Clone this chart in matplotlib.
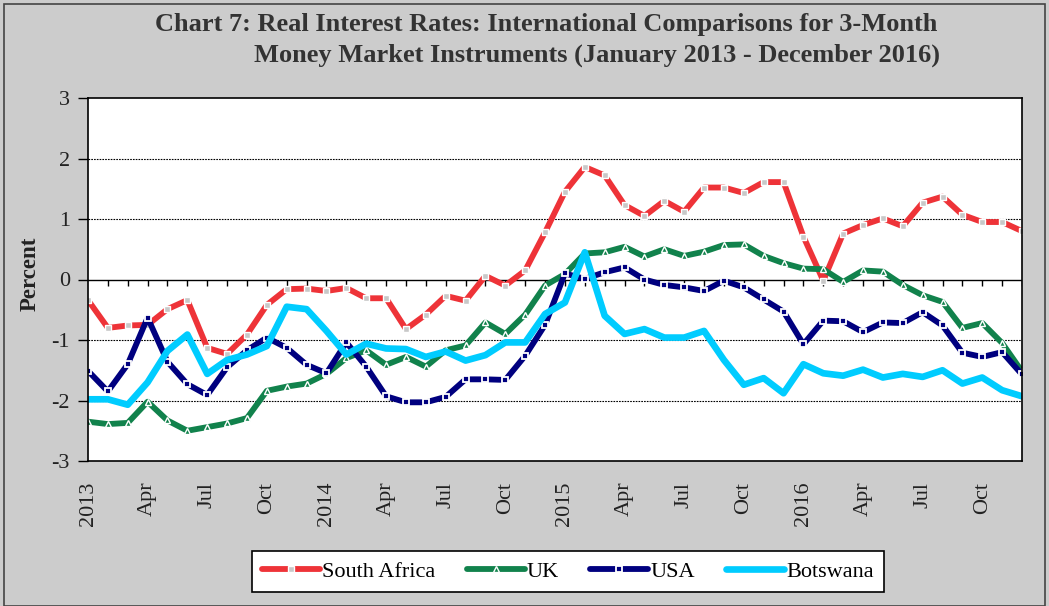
import matplotlib
matplotlib.use("Agg")
import matplotlib.pyplot as plt
from matplotlib.patches import Rectangle
import numpy as np

months = list(range(48))
tick_labels = ["2013", "Apr", "Jul", "Oct", "2014", "Apr", "Jul", "Oct",
               "2015", "Apr", "Jul", "Oct", "2016", "Apr", "Jul", "Oct"]

south_africa = [-0.34, -0.80, -0.76, -0.75, -0.49, -0.34, -1.13, -1.23, -0.91, -0.42, -0.16, -0.15,
                -0.19, -0.14, -0.31, -0.31, -0.82, -0.58, -0.27, -0.35, 0.06, -0.10, 0.15, 0.78,
                1.45, 1.86, 1.72, 1.23, 1.05, 1.30, 1.12, 1.52, 1.52, 1.43, 1.61, 1.61,
                0.71, -0.02, 0.76, 0.90, 1.01, 0.88, 1.27, 1.37, 1.07, 0.95, 0.95, 0.80]
uk = [-2.35, -2.39, -2.37, -2.02, -2.33, -2.50, -2.44, -2.38, -2.29, -1.84, -1.77, -1.72,
      -1.56, -1.30, -1.17, -1.41, -1.28, -1.44, -1.17, -1.09, -0.71, -0.90, -0.58, -0.10,
      0.09, 0.43, 0.45, 0.54, 0.38, 0.50, 0.39, 0.46, 0.57, 0.58, 0.39, 0.27,
      0.18, 0.17, -0.04, 0.15, 0.13, -0.09, -0.26, -0.37, -0.80, -0.72, -1.05, -1.52]
usa = [-1.51, -1.85, -1.40, -0.63, -1.36, -1.73, -1.91, -1.45, -1.17, -0.96, -1.13, -1.41,
       -1.55, -1.04, -1.44, -1.93, -2.03, -2.03, -1.94, -1.65, -1.65, -1.66, -1.26, -0.75,
       0.10, 0.01, 0.12, 0.20, 0.00, -0.09, -0.13, -0.19, -0.02, -0.13, -0.33, -0.53,
       -1.07, -0.68, -0.69, -0.87, -0.71, -0.72, -0.54, -0.76, -1.21, -1.28, -1.20, -1.57]
botswana = [-1.98, -1.98, -2.07, -1.70, -1.18, -0.91, -1.56, -1.33, -1.24, -1.10, -0.45, -0.49,
            -0.85, -1.24, -1.06, -1.14, -1.15, -1.28, -1.19, -1.34, -1.25, -1.04, -1.04, -0.57,
            -0.38, 0.45, -0.60, -0.90, -0.82, -0.96, -0.96, -0.85, -1.33, -1.74, -1.63, -1.88,
            -1.40, -1.55, -1.59, -1.49, -1.62, -1.56, -1.61, -1.50, -1.72, -1.62, -1.83, -1.93]

plt.rcParams['font.family'] = ['Liberation Serif', 'DejaVu Serif']

BG = '#CCCCCC'
fig = plt.figure(figsize=(10.49, 6.06), dpi=100, facecolor=BG)
ax = fig.add_axes([88/1049, 1-461/606, (1022-88)/1049, (461-98)/606])
ax.set_facecolor('white')

ax.plot(months, south_africa, color='#EE3338', lw=4.2, marker='s', ms=4.5,
        mfc='#C8C8C8', mec='white', mew=1.0, label='South Africa', solid_capstyle='round')
ax.plot(months, uk, color='#11824C', lw=4.2, marker='^', ms=5,
        mfc='#11824C', mec='white', mew=1.0, label='UK', solid_capstyle='round')
ax.plot(months, usa, color='#00007F', lw=4.2, marker='s', ms=5,
        mfc='#00007F', mec='white', mew=1.3, label='USA', solid_capstyle='round')
ax.plot(months, botswana, color='#00CCFF', lw=4.8, label='Botswana', solid_capstyle='round')

ax.set_xlim(0, 47)
ax.set_ylim(-3, 3)
ax.set_yticks([-3, -2, -1, 0, 1, 2, 3])
ax.set_yticklabels(['-3', '-2', '-1', '0', '1', '2', '3'])
for yv in [-2, -1, 1, 2]:
    ax.axhline(yv, color='black', lw=0.8, ls=(0, (1.5, 1)), zorder=0.5)
ax.axhline(0, color='black', lw=1.0, zorder=0.6)
ax.vlines(months[1:], -0.115, 0, color='black', lw=1.0, zorder=0.6)

ax.set_xticks(months[::3])
ax.set_xticklabels(tick_labels, rotation=90, fontsize=16, color='#222222')
ax.tick_params(axis='x', length=0, pad=15)
ax.tick_params(axis='y', length=7, width=1, labelsize=16, labelcolor='#222222', pad=6)
for s in ax.spines.values():
    s.set_linewidth(1.2)
    s.set_color('black')

fig.text(30/1049, 1-274/606, 'Percent', rotation=90, fontsize=16.5, fontweight='bold',
         ha='center', va='center', color='#222222')

fig.text(937/1049, 1-25/606, 'Chart 7: Real Interest Rates: International Comparisons for 3-Month',
         ha='right', va='center', fontsize=19, fontweight='bold', color='#333333')
fig.text(940/1049, 1-55/606, 'Money Market Instruments (January 2013 - December 2016)',
         ha='right', va='center', fontsize=19, fontweight='bold', color='#333333')

leg = fig.legend(loc='center', bbox_to_anchor=(568/1049, 1-571.5/606), ncol=4,
                 fontsize=16, frameon=True, fancybox=False, edgecolor='black',
                 handlelength=2.6, handletextpad=0.1, columnspacing=1.4, borderpad=0.45)
leg.get_frame().set_linewidth(1.2)
leg.get_frame().set_facecolor('white')
leg.get_frame().set_alpha(1)

fig.patches.append(Rectangle((4/1049, 0), 1-8/1049, 1-4/606, transform=fig.transFigure,
                             fill=False, edgecolor='#444444', lw=1.2))

fig.savefig('out.png', dpi=100, facecolor=BG)
